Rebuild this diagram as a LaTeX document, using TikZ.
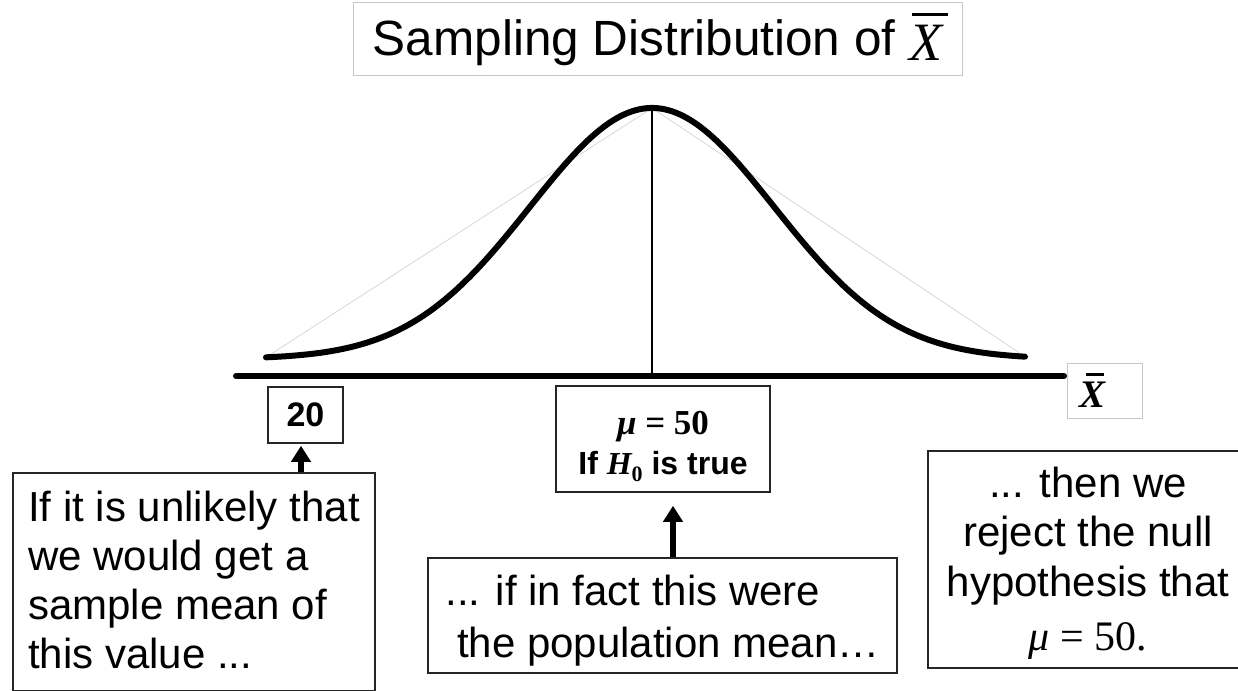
\documentclass[tikz,border=0pt]{standalone}
\usepackage{fontspec}
\setmainfont{Liberation Sans}
\newfontfamily\tms{Liberation Serif}
\usetikzlibrary{arrows.meta}
\newcommand\barX[5]{\makebox[0pt][l]{\hspace*{#2}\rule[#3]{#4}{#5}}#1}
\definecolor{lightframe}{RGB}{200,200,200}
\definecolor{faint}{RGB}{215,215,215}
\begin{document}
\begin{tikzpicture}[x=1pt,y=-1pt,
  frame/.style={draw=black!85, line width=1.5pt, inner sep=0pt},
  softframe/.style={draw=lightframe, line width=1pt, inner sep=0pt},
  curve/.style={line width=6pt, line cap=round, line join=round},
  axisline/.style={line width=6pt, line cap=round},
  upArrow/.style={line width=5.5pt, -{Triangle[width=19pt,length=16pt]}},
  big/.style={font=\fontsize{42}{49.3}\selectfont}]
\useasboundingbox (0,0) rectangle (1238,690);
\clip (0,0) rectangle (1238,690);

% title
\node[softframe, minimum width=609pt, minimum height=73pt, font=\fontsize{49.5}{55}\selectfont] (title) at (657.5,39.5)
  {Sampling Distribution of \raisebox{-5pt}{\tms\itshape\fontsize{54}{60}\selectfont\barX{X}{3pt}{45pt}{36pt}{2.5pt}}};

% curve and axis
\coordinate (peak) at (652,108);
\coordinate (cl) at (266,357.3);
\coordinate (cr) at (1025,356.6);
\coordinate (axL) at (236,376);
\coordinate (axR) at (1064,376);
\coordinate (foot) at (652,376);

\draw[faint, line width=0.8pt] (cl) -- (peak) -- (cr);
\draw[line width=1.5pt] (peak) -- (foot);
\draw[curve] plot[domain=-3.164:3.057, samples=120, smooth] ({652+122*\x}, {359-251*exp(-(\x)*(\x)/2)});
\draw[axisline] (axL) -- (axR);

\node[softframe, minimum width=75pt, minimum height=55pt] (xlab) at (1104.5,390.5)
  {\tms\bfseries\itshape\fontsize{39}{45}\selectfont\barX{X}{7pt}{32pt}{18pt}{2.5pt}\hspace*{25pt}};

% boxes
\node[frame, minimum width=75pt, minimum height=56pt, font=\bfseries\fontsize{34}{38}\selectfont] (v20) at (305.5,415) {20};

\node[frame, minimum width=214pt, minimum height=106pt, align=center, font=\bfseries\fontsize{32}{40}\selectfont] (mu) at (663,439)
  {\rule{0pt}{39pt}{\tms\bfseries\fontsize{35}{40}\selectfont{\itshape μ} = 50}\\ If {\tms\bfseries\itshape H}\raisebox{-7pt}{\tms\bfseries\fontsize{22}{24}\selectfont 0} is true};

\node[frame, minimum width=362pt, minimum height=218pt, align=left, big] (Lbox) at (194,582)
  {\rule{0pt}{31pt}If it is unlikely that\\ we would get a\\ sample mean of\\ this value ...\rule[-5pt]{0pt}{5pt}};

\node[frame, minimum width=469pt, minimum height=115pt, align=left, font=\fontsize{42}{52}\selectfont] (Mbox) at (662.5,615.5)
  {\rule{0pt}{40pt}... if in fact this were\\ \hspace*{0.278em}the population mean…};

\node[frame, minimum width=320pt, minimum height=217pt, align=center, big] (Rbox) at (1088,559.5)
  {\rule{0pt}{38pt}... then we\\ reject the null\\ hypothesis that\\[5pt] {\tms{\itshape μ} = 50.}};

% arrows
\coordinate (a20) at ([xshift=-4.5pt,yshift=-2pt]v20.south);
\draw[upArrow] (a20 |- Lbox.north) -- (a20);
\coordinate (amu) at ([xshift=10pt,yshift=-13pt]mu.south);
\draw[upArrow] (amu |- Mbox.north) -- (amu);
\end{tikzpicture}
\end{document}
